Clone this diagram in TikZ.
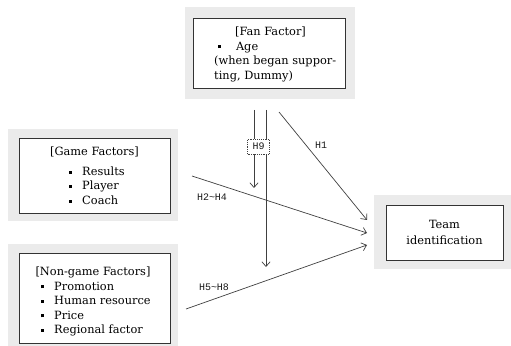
\documentclass[tikz,border=0pt]{standalone}
\usepackage{fontspec}
\setmainfont{DejaVu Serif}
\newfontfamily\hypfont{Liberation Mono}
\usetikzlibrary{arrows.meta,calc}
\newcommand{\sqb}{\raisebox{0.3ex}{\rule{2.6pt}{2.6pt}}\hspace{8.5pt}}
\tikzset{
  >={Straight Barb[length=4pt,width=7pt]},
  panel/.style    = {fill=black!8, draw=none, inner sep=0pt},
  factorbox/.style= {draw=black!80, fill=white, line width=0.6pt, inner sep=0pt},
  boxtext/.style  = {inner sep=0pt, align=left,
                     font=\fontsize{9.7}{12.4}\selectfont},
  hyppath/.style  = {->, draw=black!75, line width=0.6pt},
  hyp/.style      = {font=\hypfont\fontsize{8.5}{9}\selectfont, text=black!90}
}

\begin{document}
\begin{tikzpicture}[x=0.03cm, y=-0.03cm]
  \useasboundingbox (0,0) rectangle (511,346);
  % grey panels
  \node[panel, minimum width=5.10cm, minimum height=2.76cm] (fanbg)  at (270,53) {};
  \node[panel, minimum width=5.10cm, minimum height=2.76cm] (gamebg) at (93,175) {};
  \node[panel, minimum width=5.10cm, minimum height=3.06cm] (ngbg)   at (93,295) {};
  \node[panel, minimum width=4.11cm, minimum height=2.22cm] (teambg) at (442.5,232) {};
  % boxes
  \node[factorbox, minimum width=4.56cm, minimum height=2.1cm]  (fan)     at (269,53) {};
  \node[factorbox, minimum width=4.53cm, minimum height=2.25cm] (game)    at (94.5,175.5) {};
  \node[factorbox, minimum width=4.53cm, minimum height=2.7cm]  (nongame) at (94.5,298) {};
  \node[factorbox, minimum width=3.51cm, minimum height=1.65cm, align=center,
        font=\fontsize{9.7}{13.5}\selectfont] (team) at (444.5,232.5) {Team\\ identification};
  % box texts
  \node[boxtext, anchor=base] (fantitle) at (270.5,36) {[Fan Factor]};
  \node[boxtext, anchor=north west] (fanitems) at (214,41.5)
    {\hspace*{3.5pt}\sqb\hspace{4pt}Age\\ (when began suppor-\\ ting, Dummy)};
  \node[boxtext, anchor=base] (gametitle) at (94.5,156) {[Game Factors]};
  \node[boxtext, anchor=north west] (gameitems) at (69,166.5)
    {\sqb Results\\ \sqb Player\\ \sqb Coach};
  \node[boxtext, anchor=base] (ngtitle) at (93,275) {[Non-game Factors]};
  \node[boxtext, anchor=north west] (ngitems) at (41,281.5)
    {\sqb Promotion\\ \sqb Human resource\\ \sqb Price\\ \sqb Regional factor};
  % end points
  \coordinate (m1) at (254,110);
  \coordinate (m2) at (254,188);
  \coordinate (d1) at (266,110);
  \coordinate (d2) at (266,267);
  \coordinate (h1s) at (279,112);
  \coordinate (h1e) at (367,220);
  \coordinate (h2s) at (192,176);
  \coordinate (h2e) at (367,233);
  \coordinate (h5s) at (186,309);
  \coordinate (h5e) at (367,245);
  % paths
  \draw[hyppath] (m1) -- (m2);
  \draw[hyppath] (d1) -- (d2);
  \draw[hyppath] (h1s) -- (h1e);
  \draw[hyppath] (h2s) -- (h2e);
  \draw[hyppath] (h5s) -- (h5e);
  \node[hyp, draw=black!75, densely dotted, fill=white, line width=0.6pt,
        minimum width=0.66cm, minimum height=0.45cm, inner sep=0pt] (h9) at (258.5,146.5) {H9};
  \node[hyp] (lh1) at (321,145) {H1};
  \node[hyp] (lh2) at (212,197) {H2\textasciitilde H4};
  \node[hyp] (lh5) at (214,287) {H5\textasciitilde H8};
\end{tikzpicture}
\end{document}
